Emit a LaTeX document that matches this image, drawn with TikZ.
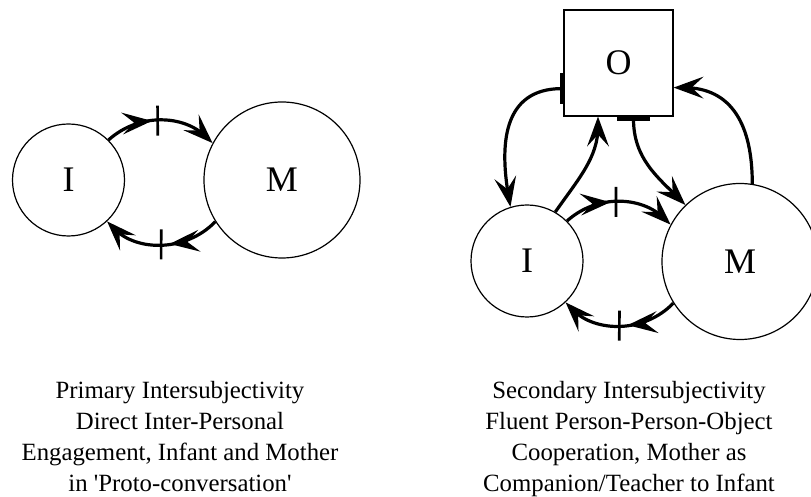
\documentclass[tikz,border=0pt]{standalone}
\usepackage{fontspec}
\setmainfont{Liberation Serif}
\usetikzlibrary{decorations.markings}
\newcommand\straightq{{\XeTeXglyph\XeTeXcharglyph"27\relax}}
\newcommand\headfill{\fill[shorten >=0pt, shorten <=0pt] (0pt,0pt) -- (-30pt,11pt) -- (-18pt,0pt) -- (-30pt,-11pt) -- cycle;}
\newcommand\tickline{\draw[shorten >=0pt, shorten <=0pt, line width=2.6pt] (0pt,-15pt) -- (0pt,15pt);}
\tikzset{
  agent/.style={circle, draw, line width=1.2pt, inner sep=0pt, font=\fontsize{36}{40}\selectfont},
  thing/.style={rectangle, draw, line width=1.2pt, minimum width=109pt, minimum height=106pt, inner sep=0pt, font=\fontsize{36}{40}\selectfont},
  link/.style={line width=3.2pt, shorten >=10pt, postaction={decorate},
     decoration={markings, mark=at position 0.9999 with {\headfill}}},
  ticklink/.style 2 args={line width=3.2pt, shorten >=10pt, postaction={decorate},
     decoration={markings,
       mark=at position #1 with {\headfill},
       mark=at position #2 with {\tickline},
       mark=at position 0.9999 with {\headfill}}},
  bar/.style={line width=4.5pt},
  caption/.style={align=center, font=\fontsize{24.8}{31}\selectfont, inner sep=0pt, anchor=north},
}
\begin{document}
\begin{tikzpicture}[x=1pt,y=1pt]
\useasboundingbox (0,0) rectangle (811,497);
% left panel
\node[agent, minimum size=112pt] (I1) at (68.5,317) {I};
\node[agent, minimum size=156pt] (M1) at (282,317) {M};
\draw[ticklink={0.42}{0.47}] (I1.45) to[out=42,in=136] (M1.152);
\draw[ticklink={0.43}{0.5}] (M1.212) to[out=-134,in=-46] (I1.-47);
% right panel
\node[agent, minimum size=112pt] (I2) at (527,236) {I};
\node[agent, minimum size=156pt] (M2) at (740,235.5) {M};
\node[thing] (O) at (618.5,434) {O};
\draw[ticklink={0.42}{0.47}] (I2.45) to[out=42,in=136] (M2.152);
\draw[ticklink={0.43}{0.5}] (M2.212) to[out=-134,in=-46] (I2.-47);
\draw[link, looseness=1.2] ([xshift=-1.5pt,yshift=28pt]O.south west) to[out=180,in=100] (I2.107);
\draw[bar] ([xshift=-1.5pt,yshift=13pt]O.south west) -- ([xshift=-1.5pt,yshift=44pt]O.south west);
\draw[link] (I2.60) to[out=55,in=-90] ([xshift=-20.5pt]O.south);
\draw[link] ([xshift=15pt,yshift=-2.5pt]O.south) to[out=-90,in=135] (M2.134);
\draw[bar] ([xshift=-1.5pt,yshift=-2.5pt]O.south) -- ([xshift=31.5pt,yshift=-2.5pt]O.south);
\draw[link, looseness=1.2] (M2.81) to[out=90,in=0] ([yshift=29pt]O.south east);
% captions
\node[caption] (capL) at (180,116.4) {Primary Intersubjectivity\\Direct Inter-Personal\\Engagement, Infant and Mother\\in \straightq Proto-conversation\straightq};
\node[caption] (capR) at (629,116.4) {Secondary Intersubjectivity\\Fluent Person-Person-Object\\Cooperation, Mother as\\Companion/Teacher to Infant};
\end{tikzpicture}
\end{document}
